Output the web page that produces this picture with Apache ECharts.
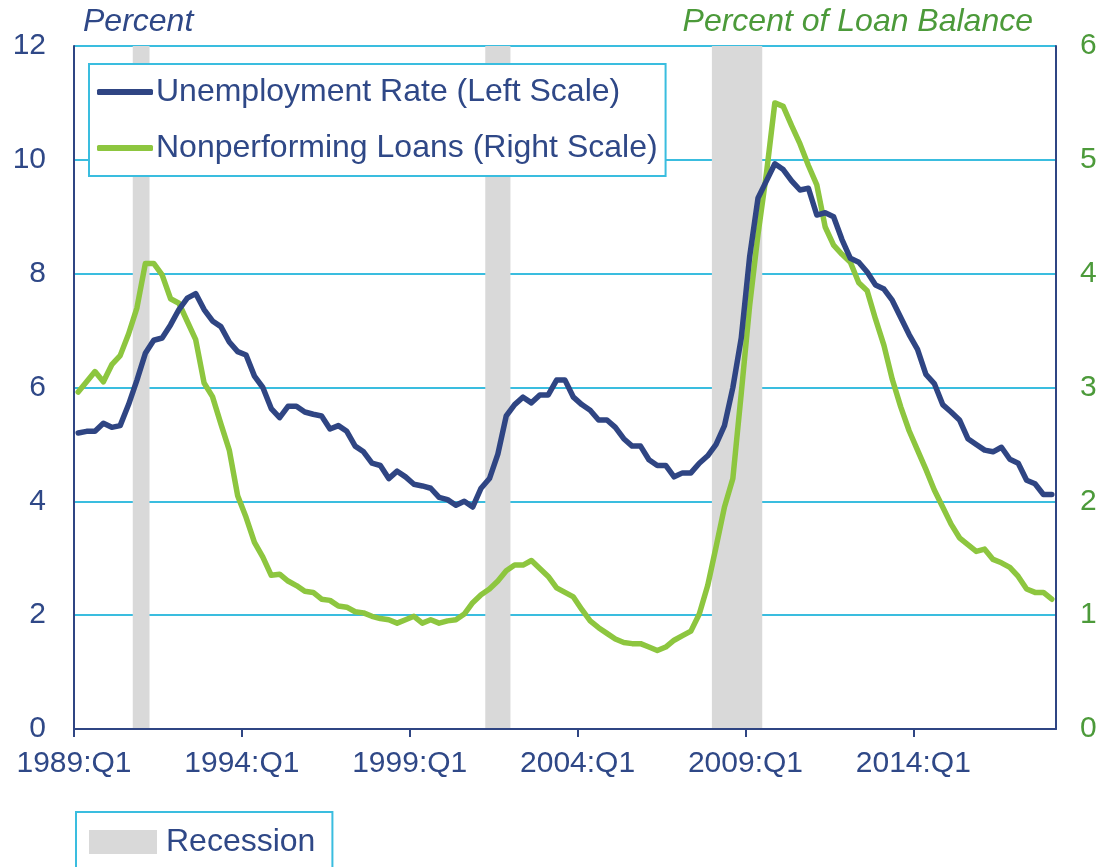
<!DOCTYPE html>
<html>
<head>
<meta charset="utf-8">
<script src="https://cdn.jsdelivr.net/npm/echarts@6/dist/echarts.min.js"></script>
<style>
  html, body { margin: 0; padding: 0; background: #fff; }
  #box { width: 1103px; height: 867px; }
</style>
</head>
<body>
<div id="box"></div>
<script>
// quarterly, 1989:Q1 .. 2018:Q1
let startYear = 1989;
let unemployment = [
  5.2, 5.23, 5.23, 5.37, 5.3, 5.33, 5.7, 6.13, 6.6, 6.83, 6.87, 7.1,
  7.37, 7.57, 7.65, 7.37, 7.17, 7.07, 6.8, 6.63, 6.57, 6.2, 6.0, 5.63,
  5.47, 5.67, 5.67, 5.57, 5.53, 5.5, 5.27, 5.33, 5.23, 4.97, 4.87, 4.67,
  4.63, 4.4, 4.53, 4.43, 4.3, 4.27, 4.23, 4.07, 4.03, 3.93, 4.0, 3.9,
  4.23, 4.4, 4.83, 5.5, 5.7, 5.83, 5.73, 5.87, 5.87, 6.13, 6.13, 5.83,
  5.7, 5.6, 5.43, 5.43, 5.3, 5.1, 4.97, 4.97, 4.73, 4.63, 4.63, 4.43,
  4.5, 4.5, 4.67, 4.8, 5.0, 5.33, 6.0, 6.87, 8.3, 9.33, 9.63, 9.93,
  9.83, 9.63, 9.47, 9.5, 9.03, 9.07, 9.0, 8.6, 8.27, 8.2, 8.03, 7.8,
  7.73, 7.53, 7.23, 6.93, 6.67, 6.23, 6.07, 5.7, 5.57, 5.43, 5.1, 5.0,
  4.9, 4.87, 4.95, 4.74, 4.67, 4.37, 4.31, 4.12, 4.12
];
let nonperforming = [
  2.96, 3.05, 3.14, 3.05, 3.2, 3.28, 3.47, 3.7, 4.09, 4.09, 3.99, 3.78,
  3.74, 3.58, 3.42, 3.04, 2.92, 2.68, 2.45, 2.05, 1.86, 1.64, 1.51, 1.35,
  1.36, 1.3, 1.26, 1.21, 1.2, 1.14, 1.13, 1.08, 1.07, 1.03, 1.02, 0.99,
  0.97, 0.96, 0.93, 0.96, 0.99, 0.93, 0.96, 0.93, 0.95, 0.96, 1.01, 1.11,
  1.18, 1.23, 1.3, 1.39, 1.44, 1.44, 1.48, 1.41, 1.34, 1.24, 1.2, 1.16,
  1.05, 0.95, 0.89, 0.84, 0.79, 0.76, 0.75, 0.75, 0.72, 0.69, 0.72, 0.78,
  0.82, 0.86, 1.01, 1.26, 1.6, 1.95, 2.2, 2.95, 3.72, 4.35, 4.88, 5.5,
  5.47, 5.3, 5.14, 4.95, 4.78, 4.41, 4.25, 4.17, 4.1, 3.92, 3.85, 3.6,
  3.37, 3.07, 2.83, 2.62, 2.45, 2.28, 2.1, 1.95, 1.8, 1.68, 1.62, 1.56,
  1.58, 1.49, 1.46, 1.42, 1.34, 1.23, 1.2, 1.2, 1.14
];
let tickQuarters = ["1989:Q1", "1994:Q1", "1999:Q1", "2004:Q1", "2009:Q1", "2014:Q1"];
// first and last quarter of each recession
let recessions = [
  ["1990:Q4", "1991:Q1"],
  ["2001:Q2", "2001:Q4"],
  ["2008:Q1", "2009:Q2"]
];

let quarters = [];
for (let i = 0; i < unemployment.length; i++) {
  quarters.push(startYear + Math.floor(i / 4) + ":Q" + ((i % 4) + 1));
}

let navy = "#2F4583",
  navyText = "#2F4887",
  green = "#8DC63F",
  greenText = "#4C9A3A",
  cyan = "#3ABDDF",
  gray = "#D9D9D9",
  font = "'Liberation Sans', Arial, sans-serif";

let uName = "Unemployment Rate (Left Scale)",
  nName = "Nonperforming Loans (Right Scale)";

// each quarter fills one slot, point drawn at the middle of it
let toPoints = arr => arr.map((v, i) => [i + 0.5, v]);
let tickVals = tickQuarters.map(q => quarters.indexOf(q));
let bands = recessions.map(r => [
  { xAxis: quarters.indexOf(r[0]) },
  { xAxis: quarters.indexOf(r[1]) + 1 }
]);

let chart = echarts.init(document.getElementById("box"), null, { renderer: "canvas" });
let option = {
  animation: false,
  textStyle: { fontFamily: font },
  grid: { left: 74, right: 47, top: 46, bottom: 138 },
  graphic: [
    {
      type: "text", left: 83, top: 6,
      style: { text: "Percent", fontSize: 32, fontStyle: "italic", fontFamily: font, fill: navyText }
    },
    {
      type: "text", right: 70, top: 6,
      style: { text: "Percent of Loan Balance", fontSize: 32, fontStyle: "italic", fontFamily: font, fill: greenText }
    }
  ],
  legend: [
    {
      data: [uName, nName],
      orient: "vertical",
      left: 89, top: 64,
      padding: [10, 8, 10, 8],
      itemGap: 20,
      itemWidth: 56, itemHeight: 6,
      icon: "roundRect",
      selectedMode: false,
      backgroundColor: "#fff",
      borderColor: cyan, borderWidth: 2,
      textStyle: { fontSize: 32, lineHeight: 36, color: navyText, fontFamily: font, padding: [0, 0, 0, -2] }
    },
    {
      data: ["Recession"],
      left: 76, top: 812,
      padding: [12, 17, 40, 13],
      itemWidth: 68, itemHeight: 24,
      icon: "rect",
      selectedMode: false,
      backgroundColor: "#fff",
      borderColor: cyan, borderWidth: 2,
      textStyle: { fontSize: 32, lineHeight: 36, color: navyText, fontFamily: font, padding: [0, 0, 0, 4] }
    }
  ],
  xAxis: {
    type: "value",
    min: 0, max: quarters.length,
    z: 3,
    axisLine: { show: true, onZero: false, lineStyle: { color: navy, width: 2 } },
    axisTick: { show: true, customValues: tickVals, length: 8, lineStyle: { color: navy, width: 2 } },
    axisLabel: {
      customValues: tickVals,
      formatter: v => quarters[v] || "",
      fontSize: 30, color: navyText, margin: 20, fontFamily: font
    },
    splitLine: { show: false }
  },
  yAxis: [
    {
      type: "value", position: "left",
      min: 0, max: 12, interval: 2,
      axisLine: { show: true, lineStyle: { color: navy, width: 2 } },
      axisTick: { show: false },
      axisLabel: { fontSize: 30, color: navyText, margin: 28, fontFamily: font },
      splitLine: { show: true, lineStyle: { color: cyan, width: 2 } }
    },
    {
      type: "value", position: "right",
      min: 0, max: 6, interval: 1,
      axisLine: { show: true, lineStyle: { color: navy, width: 2 } },
      axisTick: { show: false },
      axisLabel: { fontSize: 30, color: greenText, margin: 24, fontFamily: font },
      splitLine: { show: false }
    }
  ],
  series: [
    {
      name: "Recession",
      type: "line",
      data: [],
      itemStyle: { color: gray },
      lineStyle: { color: gray },
      markArea: {
        silent: true,
        itemStyle: { color: gray, opacity: 1 },
        label: { show: false },
        data: bands
      }
    },
    {
      name: uName,
      type: "line",
      yAxisIndex: 0,
      data: toPoints(unemployment),
      showSymbol: false, symbol: "none",
      itemStyle: { color: navy },
      lineStyle: { color: navy, width: 5.5, cap: "round", join: "round" },
      z: 4
    },
    {
      name: nName,
      type: "line",
      yAxisIndex: 1,
      data: toPoints(nonperforming),
      showSymbol: false, symbol: "none",
      itemStyle: { color: green },
      lineStyle: { color: green, width: 5.5, cap: "round", join: "round" },
      z: 3
    }
  ]
};
chart.setOption(option);
</script>
</body>
</html>
